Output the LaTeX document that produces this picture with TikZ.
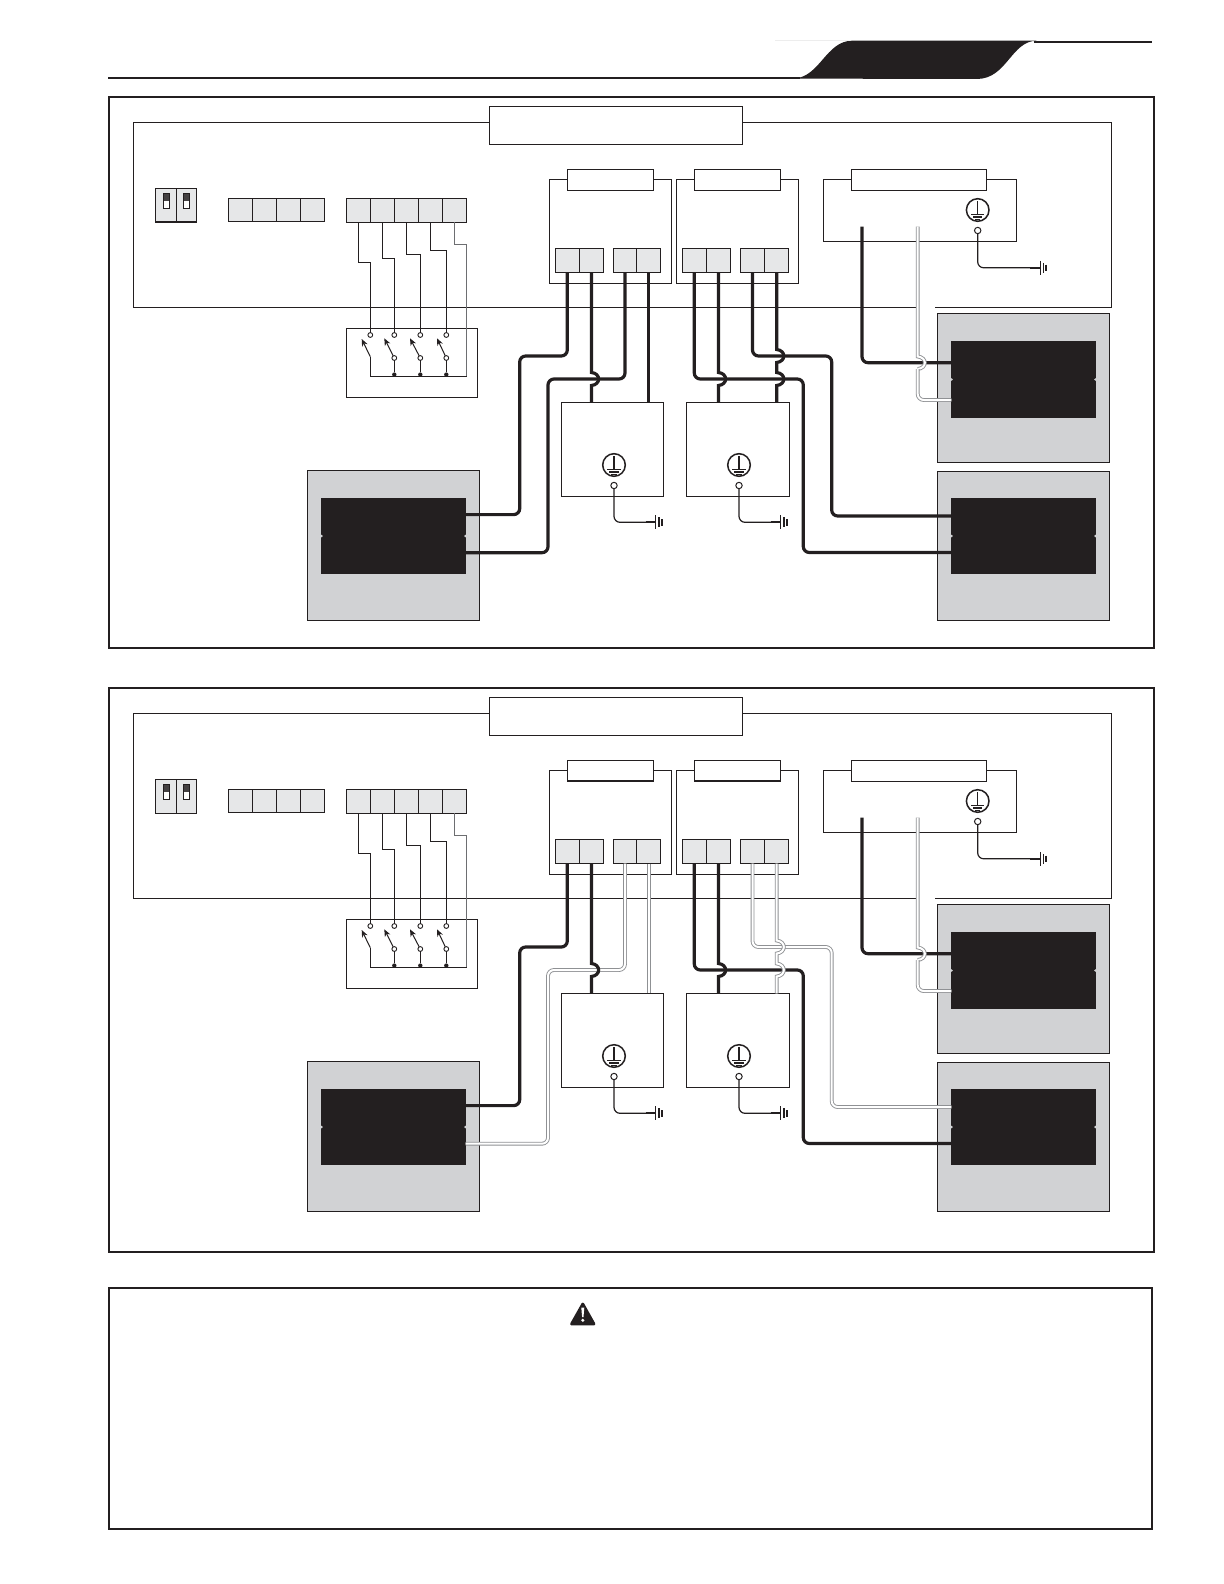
\documentclass[tikz,border=0pt]{standalone}
\usetikzlibrary{arrows.meta,calc}
\definecolor{ink}{HTML}{231F20}
\definecolor{termfill}{HTML}{E6E7E8}
\definecolor{panelfill}{HTML}{D1D2D4}
\definecolor{wirelight}{HTML}{8F9194}
\definecolor{wiregray}{HTML}{6D6E71}
\tikzset{
  thinbox/.style={rectangle,draw=ink,line width=.5pt,inner sep=0pt,outer sep=0pt},
  plainbox/.style={thinbox,fill=white},
  termbox/.style={thinbox,fill=termfill},
  panelbox/.style={thinbox,fill=panelfill},
  inkbox/.style={rectangle,fill=ink,inner sep=0pt,outer sep=0pt},
  framebox/.style={rectangle,draw=ink,line width=1pt,inner sep=0pt,outer sep=0pt},
  thinwire/.style={draw=ink,line width=.5pt},
  gwire/.style={draw=ink,line width=.6pt,rounded corners=3pt},
  pw/.style={draw=ink,line width=1.6pt,rounded corners=3pt},
  lw/.style={draw=wirelight,line width=.45pt,double=white,double distance=1pt,rounded corners=3pt},
  ringnode/.style={circle,draw=ink,line width=.5pt,fill=white,minimum size=3.2pt,inner sep=0pt,outer sep=0pt},
  swring/.style={circle,draw=ink,line width=.45pt,fill=white,minimum size=2.4pt,inner sep=0pt,outer sep=0pt},
  solder/.style={circle,fill=ink,minimum size=2.2pt,inner sep=0pt,outer sep=0pt},
  gndring/.style={circle,draw=ink,line width=.75pt,fill=white,minimum size=11.3pt,inner sep=0pt,outer sep=0pt},
  swtip/.style={-{Stealth[length=3.6pt,width=3pt]},draw=ink,line width=.5pt},
}
% name, x1, y1, x2, y2, style
\newcommand\bx[6]{%
  \pgfmathsetmacro\bxw{(#4-#2)*0.5}\pgfmathsetmacro\bxh{(#5-#3)*0.5}%
  \node[#6,minimum width=\bxw pt,minimum height=\bxh pt] (#1) at ({(#2+#4)/2},{(#3+#5)/2}) {};}
% vertical wire bump on the anchor's x between y1 and y2
\newcommand\bump[3]{-- (#1 |- 0,#2) .. controls ($(#1 |- 0,#2)+(9.5,1)$) and ($(#1 |- 0,#3)+(9.5,-1)$) .. (#1 |- 0,#3)}
% name, x, y, dx, dy
\newcommand\gnd[5]{%
  \node[gndring] (#1r) at (#2,#3) {};
  \draw[ink,line width=.55pt] (#2,#3-9) -- (#2,#3+4.3);
  \draw[ink,line width=.7pt] (#2-6.7,#3+4.3) -- (#2+6.7,#3+4.3);
  \draw[ink,line width=.7pt] (#2-4.7,#3+7) -- (#2+4.7,#3+7);
  \draw[ink,line width=.7pt] (#2-2.7,#3+9.3) -- (#2+2.7,#3+9.3);
  \node[ringnode] (#1s) at (#2,#3+20.5) {};
  \coordinate (#1e) at (#2+#4,#3+20.5+#5);
  \draw[gwire] (#1s.south) |- (#1e);
  \draw[ink,line width=1pt] ($(#1e)+(-10,0)$) -- (#1e);
  \draw[ink,line width=.55pt] ($(#1e)+(0,-7)$) -- ($(#1e)+(0,7)$);
  \draw[ink,line width=.9pt] ($(#1e)+(3,-5)$) -- ($(#1e)+(3,5)$);
  \draw[ink,line width=1pt] ($(#1e)+(6,-3.3)$) -- ($(#1e)+(6,3.3)$);
}
% name, x1, y1, x2, y2, inner x1, inner y1, inner x2, inner y2
\newcommand\panel[9]{%
  \bx{#1}{#2}{#3}{#4}{#5}{panelbox}
  \bx{#1i}{#6}{#7}{#8}{#9}{inkbox}
  \fill[panelfill] (#6-.2,{(#7+#9)/2-1.5}) -- (#6+1.6,{(#7+#9)/2}) -- (#6-.2,{(#7+#9)/2+1.5}) -- cycle;
  \fill[panelfill] (#8+.2,{(#7+#9)/2-1.5}) -- (#8-1.6,{(#7+#9)/2}) -- (#8+.2,{(#7+#9)/2+1.5}) -- cycle;
}
% prefix, style of the four switched wires, y shift
\newcommand\wiring[3]{%
\begin{scope}[yshift=#3]
  % enclosure line, broken round the wire
  \coordinate (#1fa) at (916,307);
  \coordinate (#1fb) at (935,307);
  \draw[thinwire] (#1fa) -- (133.3,307) -- (133.3,122.5) -- (1111.7,122.5) -- (1111.7,307) -- (#1fb);
  \bx{#1title}{489}{106.5}{742}{144.5}{plainbox}
  % DIP
  \bx{#1dip}{155.3}{188.3}{196.7}{222.3}{termbox}
  \draw[thinwire] (176.3,188.3) -- (176.3,222.3);
  \foreach \sx in {163.3,183.3}{
    \fill[white] (\sx,193) rectangle (\sx+6.4,208.7);
    \fill[ink!85] (\sx,193) rectangle (\sx+6.4,200.5);
    \draw[thinwire] (\sx,193) rectangle (\sx+6.4,208.7);
  }
  % terminal strips
  \bx{#1m1}{228.3}{198.3}{252.3}{221.7}{termbox}
  \bx{#1m2}{252.3}{198.3}{276.7}{221.7}{termbox}
  \bx{#1m3}{276.7}{198.3}{300.7}{221.7}{termbox}
  \bx{#1m4}{300.7}{198.3}{324.7}{221.7}{termbox}
  \bx{#1s1}{346.3}{198.3}{370.3}{222.3}{termbox}
  \bx{#1s2}{370.3}{198.3}{394.7}{222.3}{termbox}
  \bx{#1s3}{394.7}{198.3}{418.7}{222.3}{termbox}
  \bx{#1s4}{418.7}{198.3}{442.7}{222.3}{termbox}
  \bx{#1s5}{442.7}{198.3}{466.7}{222.3}{termbox}
  % switch block
  \bx{#1sw}{346.3}{328.3}{477.3}{397.3}{plainbox}
  \coordinate (#1la) at (370.3,262.3);
  \coordinate (#1lb) at (394.3,258.3);
  \coordinate (#1lc) at (420.3,254.7);
  \coordinate (#1ld) at (446.3,250.3);
  \coordinate (#1le) at (466.7,244.7);
  \node[swring] (#1ua) at (370.3,335) {};
  \node[swring] (#1ub) at (394.3,335) {};
  \node[swring] (#1uc) at (420.3,335) {};
  \node[swring] (#1ud) at (446.3,335) {};
  \node[swring] (#1db) at (394.3,358) {};
  \node[swring] (#1dc) at (420.3,358) {};
  \node[swring] (#1dd) at (446.3,358) {};
  \node[solder] (#1pb) at (394.3,374.6) {};
  \node[solder] (#1pc) at (420.3,374.6) {};
  \node[solder] (#1pd) at (446.3,374.6) {};
  \coordinate (#1ra) at (370.3,376);
  \coordinate (#1rk) at (370.3,356.7);
  \coordinate (#1ta) at (361.7,339);
  \coordinate (#1tb) at (384.3,338.3);
  \coordinate (#1tc) at (410,338.3);
  \coordinate (#1td) at (437,338.3);
  \coordinate (#1re) at (466.7,376);
  \draw[thinwire] (#1s1.south) |- (#1la) -- (#1ua.north);
  \draw[thinwire] (#1s2.south) |- (#1lb) -- (#1ub.north);
  \draw[thinwire] (#1s3.south) |- (#1lc) -- (#1uc.north);
  \draw[thinwire] (#1s4.south) |- (#1ld) -- (#1ud.north);
  \draw[draw=wiregray,line width=.7pt] (#1s5.south) |- (#1le) -- (#1re);
  \draw[thinwire] (#1re) -- (#1ra) -- (#1rk);
  \draw[swtip] (#1rk) -- (#1ta);
  \draw[swtip] (#1db) -- (#1tb);
  \draw[swtip] (#1dc) -- (#1tc);
  \draw[swtip] (#1dd) -- (#1td);
  \draw[thinwire] (#1db.south) -- (#1pb);
  \draw[thinwire] (#1dc.south) -- (#1pc);
  \draw[thinwire] (#1dd.south) -- (#1pd);
  % breaker boxes
  \bx{#1ba}{549.3}{179.3}{671.3}{283.3}{plainbox}
  \bx{#1la1}{567.3}{169.3}{653.7}{190.3}{plainbox}
  \bx{#1bb}{676.3}{179.3}{798.3}{283.3}{plainbox}
  \bx{#1lb1}{694.3}{169.3}{780.7}{190.3}{plainbox}
  \bx{#1be}{823.3}{179.3}{1016.7}{241.3}{plainbox}
  \bx{#1le1}{851.3}{169.3}{986.7}{190.3}{plainbox}
  \bx{#1t1}{555.3}{248.3}{579.3}{272.7}{termbox}
  \bx{#1t2}{579.3}{248.3}{603.7}{272.7}{termbox}
  \bx{#1t3}{613.3}{248.3}{636.7}{272.7}{termbox}
  \bx{#1t4}{636.7}{248.3}{660.7}{272.7}{termbox}
  \bx{#1t5}{682.3}{248.3}{706.3}{272.7}{termbox}
  \bx{#1t6}{706.3}{248.3}{730.7}{272.7}{termbox}
  \bx{#1t7}{740.3}{248.3}{764.7}{272.7}{termbox}
  \bx{#1t8}{764.7}{248.3}{788.7}{272.7}{termbox}
  % load boxes
  \bx{#1c}{561.3}{402.3}{663.7}{496.7}{plainbox}
  \bx{#1d}{686.3}{402.3}{789.7}{496.7}{plainbox}
  \gnd{#1gc}{614}{465}{41.7}{36.8}
  \gnd{#1gd}{739}{465}{41.7}{36.8}
  \gnd{#1ge}{977.7}{210}{62.7}{37.3}
  % panels
  \panel{#1pl}{307.3}{470}{479.7}{620.3}{321.3}{497.7}{465.7}{574.3}
  \panel{#1pu}{937.3}{313.3}{1109.7}{462.7}{951.3}{341.3}{1095.7}{417.7}
  \panel{#1pr}{937.3}{471.3}{1109.7}{620.3}{951.3}{497.7}{1095.7}{574.3}
  % left-hand feeds
  \coordinate (#1w1a) at (519.7,356);
  \coordinate (#1w1b) at (465.7,514.6);
  \coordinate (#1w3a) at (548,379);
  \coordinate (#1w3b) at (465.7,552.7);
  \draw[pw] (#1t1.south) |- (#1w1a) |- (#1w1b);
  \draw[#2] (#1t3.south) |- (#1w3a) |- (#1w3b);
  % right-hand feeds
  \coordinate (#1w5a) at (803.3,379);
  \coordinate (#1w5b) at (951.3,552.5);
  \coordinate (#1w7a) at (831.7,356);
  \coordinate (#1w7b) at (951.3,516);
  \draw[pw] (#1t5.south) |- (#1w5a) |- (#1w5b);
  \draw[#2] (#1t7.south) |- (#1w7a) |- (#1w7b);
  % bumped and straight verticals
  \draw[pw,rounded corners=0pt] (#1t2.south) \bump{#1t2.south}{372.5}{385.5} -- (#1t2.south |- #1c.north);
  \draw[#2,rounded corners=0pt] (#1t4.south) -- (#1t4.south |- #1c.north);
  \draw[pw,rounded corners=0pt] (#1t6.south) \bump{#1t6.south}{372.5}{385.5} -- (#1t6.south |- #1d.north);
  \draw[#2,rounded corners=0pt] (#1t8.south) \bump{#1t8.south}{349.5}{362.5} \bump{#1t8.south}{372.5}{385.5} -- (#1t8.south |- #1d.north);
  % upper right panel
  \coordinate (#1ka) at (862,226.7);
  \coordinate (#1kb) at (951.3,362.7);
  \coordinate (#1ga) at (917.7,226.7);
  \coordinate (#1gb) at (951.3,400);
  \draw[pw] (#1ka) |- (#1kb);
  \draw[lw,rounded corners=0pt] (#1ga) \bump{#1ga}{356.5}{369};
  \draw[lw] (#1ga |- 0,369) |- (#1gb);
\end{scope}}
\begin{document}
\begin{tikzpicture}[x=0.5pt,y=-0.5pt]
  \useasboundingbox (0,0) rectangle (1224,1584);
  % header
  \coordinate (hl) at (108,78);
  \coordinate (hr) at (1152,42);
  \fill[ink] (794,78.6) .. controls (820,77) and (826,41) .. (852,40.7) -- (1036.7,40.7)
     .. controls (1011,41) and (1007,79) .. (976.7,79) -- cycle;
  \draw[ink,line width=.8pt] (hl) -- (800,78);
  \draw[ink,line width=1pt] (1034,42) -- (hr);
  \draw[black!7,line width=.5pt] (775,41) -- (850,41);
  % frames
  \bx{frameA}{108.6}{97}{1154.4}{647.5}{framebox}
  \bx{frameB}{108.6}{688}{1154.4}{1252}{framebox}
  \bx{frameC}{108.6}{1287.6}{1152.3}{1529}{framebox}
  \wiring{a-}{pw}{0pt}
  \wiring{b-}{lw}{-295.5pt}
  \draw[ink,line width=1pt] (a-dip.south west) -- (a-dip.south east);
  \draw[ink,line width=1pt] (b-la1.south west) -- (b-la1.south east);
  \draw[ink,line width=1pt] (b-lb1.south west) -- (b-lb1.south east);
  % warning sign
  \fill[ink,draw=ink,line width=1.4pt,line join=round] (582.8,1304) -- (594,1324) -- (571.5,1324) -- cycle;
  \fill[white] (581.3,1307.5) -- (584.3,1307.5) -- (583.5,1317) -- (582.1,1317) -- cycle;
  \fill[white] (582.8,1320.3) circle (1.7);
\end{tikzpicture}
\end{document}
